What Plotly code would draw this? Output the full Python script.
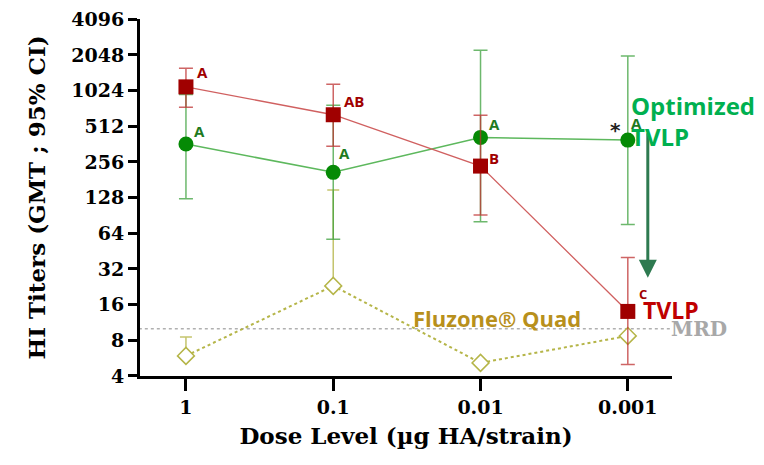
import plotly.graph_objects as go
import math

doses = ["1", "0.1", "0.01", "0.001"]
xpos = [0, 1, 2, 3]

tvlp = [1100, 640, 236, 14]
tvlp_hi = [1580, 1160, 635, 40]
tvlp_lo = [740, 347, 91, 5]
tvlp_letters = ["A", "AB", "B", "C"]

opt = [362, 209, 412, 391]
opt_hi = [950, 770, 2240, 2000]
opt_lo = [125, 57, 80, 76]
opt_letters = ["A", "A", "A", "A"]

fluz = [5.9, 23, 5.15, 8.7]
fluz_hi = [8.5, 148, 5.15, 8.7]
fluz_lo = [5.9, 23, 5.15, 8.7]

mrd = 10
yticks = [4, 8, 16, 32, 64, 128, 256, 512, 1024, 2048, 4096]

RED = "#A00000"
GREEN = "#058A05"

def plus(v, h):
    return [b - a for a, b in zip(v, h)]

def minus(v, l):
    return [a - b for a, b in zip(v, l)]

fig = go.Figure()

# MRD line
fig.add_trace(go.Scatter(x=[-0.32, 3.32], y=[mrd, mrd], mode="lines",
                         line=dict(color="#B0B0B0", width=1.5, dash="dot"),
                         hoverinfo="skip", showlegend=False))

fig.add_trace(go.Scatter(
    x=xpos, y=fluz, mode="lines+markers",
    line=dict(color="#B5B548", width=2, dash="dot"),
    marker=dict(symbol="diamond", size=13, color="white", line=dict(width=1.5, color="#B5B548")),
    error_y=dict(type="data", array=plus(fluz, fluz_hi), arrayminus=minus(fluz, fluz_lo),
                 color="rgba(181,181,72,0.8)", thickness=1.5, width=6),
    showlegend=False))

fig.add_trace(go.Scatter(
    x=xpos, y=opt, mode="lines+markers",
    line=dict(color="#5DB85D", width=1.5),
    marker=dict(symbol="circle", size=15, color=GREEN),
    error_y=dict(type="data", array=plus(opt, opt_hi), arrayminus=minus(opt, opt_lo),
                 color="rgba(60,160,60,0.75)", thickness=1.5, width=7),
    showlegend=False))

fig.add_trace(go.Scatter(
    x=xpos, y=tvlp, mode="lines+markers",
    line=dict(color="#D06060", width=1.3),
    marker=dict(symbol="square", size=15, color=RED),
    error_y=dict(type="data", array=plus(tvlp, tvlp_hi), arrayminus=minus(tvlp, tvlp_lo),
                 color="rgba(190,50,50,0.75)", thickness=1.5, width=7),
    showlegend=False))

sans = "Open Sans"
red_shift = [(17, 15), (21, 14), (13, 8), (15, 17)]
for i, (t, s) in enumerate(zip(tvlp_letters, red_shift)):
    fig.add_annotation(x=xpos[i], y=math.log10(tvlp[i]), text=t, showarrow=False,
                       xshift=s[0], yshift=s[1],
                       font=dict(family=sans, size=15 if i < 3 else 13, color=RED, weight="bold"))
green_shift = [(14, 13), (11, 19), (14, 13), (9, 17)]
for i, (t, s) in enumerate(zip(opt_letters, green_shift)):
    fig.add_annotation(x=xpos[i], y=math.log10(opt[i]), text=t, showarrow=False,
                       xshift=s[0], yshift=s[1],
                       font=dict(family=sans, size=15, color="#1E7A1E", weight="bold"))
fig.add_annotation(x=xpos[3], y=math.log10(opt[3]), text="*", showarrow=False,
                   xshift=-12, yshift=10,
                   font=dict(family="DejaVu Sans", size=20, color="#222222", weight="bold"))

# Arrow
fig.add_annotation(x=xpos[3], y=math.log10(27), xshift=20, ax=0, ay=-146,
                   axref="pixel", ayref="pixel", text="", showarrow=True,
                   arrowhead=2, arrowsize=1.2, arrowwidth=3, arrowcolor="#2E7A50")

fig.add_annotation(x=xpos[3], y=math.log10(opt[3]), text="Optimized<br>TVLP", showarrow=False,
                   xanchor="left", xshift=1, yshift=19, align="left",
                   font=dict(family=sans, size=24, color="#00B050", weight="bold"))
fig.add_annotation(x=xpos[3], y=math.log10(tvlp[3]), text="TVLP", showarrow=False,
                   xanchor="left", xshift=13, yshift=1,
                   font=dict(family=sans, size=23, color="#C00000", weight="bold"))
fig.add_annotation(x=2, y=math.log10(mrd), text="Fluzone® Quad", showarrow=False,
                   xanchor="center", xshift=16, yshift=11,
                   font=dict(family=sans, size=22, color="#B8901C", weight="bold"))
fig.add_annotation(x=3.3, y=math.log10(mrd), text="MRD", showarrow=False,
                   xanchor="left", xshift=-3, yshift=0,
                   font=dict(family="DejaVu Serif", size=20, color="#A8A8A8", weight="bold"))

serif = "DejaVu Serif"
fig.update_layout(
    width=764, height=465,
    margin=dict(l=132, r=100, t=11, b=97, autoexpand=False),
    plot_bgcolor="white", paper_bgcolor="white",
    xaxis=dict(range=[-0.312, 3.30], tickvals=xpos, ticktext=doses, automargin=False,
               showline=True, linecolor="black", linewidth=3,
               ticks="outside", ticklen=12, tickwidth=2.5, tickcolor="black",
               showgrid=False, zeroline=False,
               tickfont=dict(family=serif, size=19, color="black", weight="bold"),
               title=dict(text="Dose Level (µg HA/strain)", standoff=12,
                          font=dict(family=serif, size=23, color="black", weight="bold"))),
    yaxis=dict(type="log", range=[math.log10(4) - 0.001, math.log10(4096) + 0.002], automargin=False,
               tickvals=yticks, ticktext=[str(v) for v in yticks],
               ticklabeloverflow="allow",
               showline=True, linecolor="black", linewidth=3,
               ticks="outside", ticklen=9, tickwidth=2.5, tickcolor="black",
               showgrid=False, zeroline=False,
               tickfont=dict(family=serif, size=19, color="black", weight="bold"),
               title=dict(text="HI Titers (GMT ; 95% CI)", standoff=20,
                          font=dict(family=serif, size=23, color="black", weight="bold"))),
)

fig.write_html("out.html")
